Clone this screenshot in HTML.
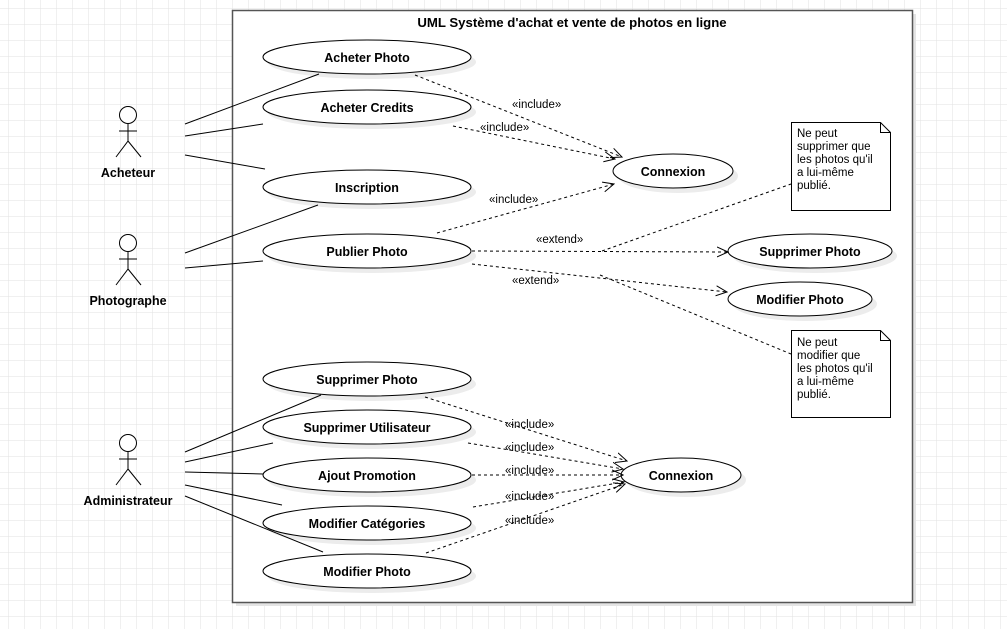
<!DOCTYPE html>
<html><head><meta charset="utf-8"><style>
html,body{margin:0;padding:0;background:#fff}
svg{display:block}
text{font-family:"Liberation Sans",sans-serif;fill:#000}
.b{font-weight:bold;font-size:12.5px}
.s{font-size:11.5px}
</style></head><body>
<svg width="1007" height="629" viewBox="0 0 1007 629" xmlns="http://www.w3.org/2000/svg">
<defs>
<pattern id="g" x="8" y="8" width="16" height="16" patternUnits="userSpaceOnUse">
<path d="M0 0H16M0 0V16" stroke="#e2e2e2" stroke-width="1" fill="none"/>
</pattern>
<marker id="a" markerWidth="12" markerHeight="12" refX="11" refY="6" orient="auto" markerUnits="userSpaceOnUse">
<path d="M0 1 L11 6 L0 11" fill="none" stroke="#000" stroke-width="1"/>
</marker>
</defs>
<rect width="1007" height="629" fill="url(#g)"/>
<rect x="236" y="14" width="680" height="592" fill="#e4e4e4"/>
<rect x="232.5" y="10.5" width="680" height="592" fill="#fff" stroke="#555" stroke-width="1.5"/>
<text x="572" y="27" class="b" style="font-size:13.2px" text-anchor="middle">UML Système d'achat et vente de photos en ligne</text>

<g fill="#ececec">
<ellipse cx="372" cy="62" rx="104" ry="17"/>
<ellipse cx="372" cy="112" rx="104" ry="17"/>
<ellipse cx="372" cy="192" rx="104" ry="17"/>
<ellipse cx="372" cy="256" rx="104" ry="17"/>
<ellipse cx="678" cy="176" rx="60" ry="17"/>
<ellipse cx="815" cy="256" rx="82" ry="17"/>
<ellipse cx="805" cy="304" rx="72" ry="17"/>
<ellipse cx="372" cy="384" rx="104" ry="17"/>
<ellipse cx="372" cy="432" rx="104" ry="17"/>
<ellipse cx="372" cy="480" rx="104" ry="17"/>
<ellipse cx="372" cy="528" rx="104" ry="17"/>
<ellipse cx="372" cy="576" rx="104" ry="17"/>
<ellipse cx="686" cy="480" rx="60" ry="17"/>
</g>
<g fill="#fff" stroke="#000" stroke-width="1">
<ellipse cx="367" cy="57" rx="104" ry="17"/>
<ellipse cx="367" cy="107" rx="104" ry="17"/>
<ellipse cx="367" cy="187" rx="104" ry="17"/>
<ellipse cx="367" cy="251" rx="104" ry="17"/>
<ellipse cx="673" cy="171" rx="60" ry="17"/>
<ellipse cx="810" cy="251" rx="82" ry="17"/>
<ellipse cx="800" cy="299" rx="72" ry="17"/>
<ellipse cx="367" cy="379" rx="104" ry="17"/>
<ellipse cx="367" cy="427" rx="104" ry="17"/>
<ellipse cx="367" cy="475" rx="104" ry="17"/>
<ellipse cx="367" cy="523" rx="104" ry="17"/>
<ellipse cx="367" cy="571" rx="104" ry="17"/>
<ellipse cx="681" cy="475" rx="60" ry="17"/>
</g>
<g class="b" text-anchor="middle">
<text x="367" y="62" class="b">Acheter Photo</text>
<text x="367" y="112" class="b">Acheter Credits</text>
<text x="367" y="192" class="b">Inscription</text>
<text x="367" y="256" class="b">Publier Photo</text>
<text x="673" y="176" class="b">Connexion</text>
<text x="810" y="256" class="b">Supprimer Photo</text>
<text x="800" y="304" class="b">Modifier Photo</text>
<text x="367" y="384" class="b">Supprimer Photo</text>
<text x="367" y="432" class="b">Supprimer Utilisateur</text>
<text x="367" y="480" class="b">Ajout Promotion</text>
<text x="367" y="528" class="b">Modifier Catégories</text>
<text x="367" y="576" class="b">Modifier Photo</text>
<text x="681" y="480" class="b">Connexion</text>
</g>

<g stroke="#000" fill="none" stroke-width="1">
<g><circle cx="128" cy="115" r="8.5" fill="#fff"/><path d="M128 124V141M119 131H137M128 141L116 157M128 141L141 157"/></g>
<g transform="translate(0,128)"><circle cx="128" cy="115" r="8.5" fill="#fff"/><path d="M128 124V141M119 131H137M128 141L116 157M128 141L141 157"/></g>
<g transform="translate(0,328)"><circle cx="128" cy="115" r="8.5" fill="#fff"/><path d="M128 124V141M119 131H137M128 141L116 157M128 141L141 157"/></g>
</g>
<text x="128" y="177" class="b" text-anchor="middle">Acheteur</text>
<text x="128" y="305" class="b" text-anchor="middle">Photographe</text>
<text x="128" y="505" class="b" text-anchor="middle">Administrateur</text>

<g stroke="#000" stroke-width="1" fill="none">
<path d="M185 124L319 74M185 136L263 124M185 155L265 169"/>
<path d="M185 253L318 205M185 268L263 261"/>
<path d="M185 452L321 395M185 462L273 443M185 472L263 474M185 485L282 505M185 496L323 552"/>
</g>

<g stroke="#000" stroke-width="1" fill="none" stroke-dasharray="3,3">
<path d="M415 75L622 157" marker-end="url(#a)"/>
<path d="M453 126L615 159" marker-end="url(#a)"/>
<path d="M437 233L614 184" marker-end="url(#a)"/>
<path d="M472 251L728 252" marker-end="url(#a)"/>
<path d="M472 264L727 292" marker-end="url(#a)"/>
<path d="M602 251L791 184"/>
<path d="M600 275L791 354"/>
<path d="M425 397L627 461" marker-end="url(#a)"/>
<path d="M468 443L623 469" marker-end="url(#a)"/>
<path d="M472 475L623 475" marker-end="url(#a)"/>
<path d="M473 507L624 482" marker-end="url(#a)"/>
<path d="M426 553L625 484" marker-end="url(#a)"/>
</g>
<g class="s">
<text x="512" y="108">«include»</text>
<text x="480" y="131">«include»</text>
<text x="489" y="203">«include»</text>
<text x="536" y="243">«extend»</text>
<text x="512" y="284">«extend»</text>
<text x="505" y="428">«include»</text>
<text x="505" y="451">«include»</text>
<text x="505" y="474">«include»</text>
<text x="505" y="500">«include»</text>
<text x="505" y="524">«include»</text>
</g>

<g stroke="#000" stroke-width="1" fill="#fff">
<path d="M791.5 122.5H880.5L890.5 132.5V210.5H791.5Z"/><path d="M880.5 122.5V132.5H890.5" fill="none"/>
<path d="M791.5 330.5H880.5L890.5 340.5V417.5H791.5Z"/><path d="M880.5 330.5V340.5H890.5" fill="none"/>
</g>
<g class="s">
<text x="797" y="137">Ne peut</text><text x="797" y="150">supprimer que</text><text x="797" y="163">les photos qu'il</text><text x="797" y="176">a lui-même</text><text x="797" y="189">publié.</text>
<text x="797" y="346">Ne peut</text><text x="797" y="359">modifier que</text><text x="797" y="372">les photos qu'il</text><text x="797" y="385">a lui-même</text><text x="797" y="398">publié.</text>
</g>
</svg>
</body></html>
